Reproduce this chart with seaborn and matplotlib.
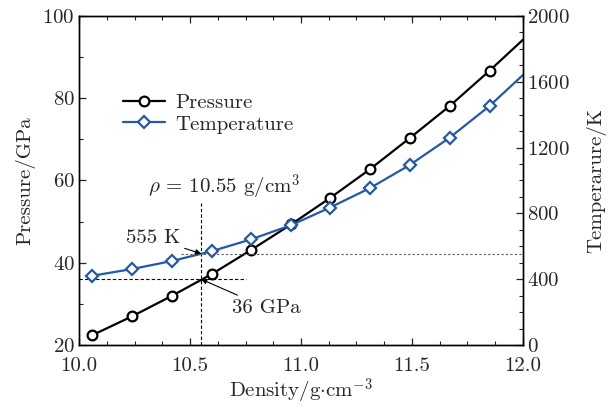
import numpy as np
import pandas as pd
import matplotlib
matplotlib.use("Agg")
import matplotlib.pyplot as plt
from matplotlib.ticker import MultipleLocator, FormatStrFormatter
import seaborn as sns

# 밀도 (g/cm^3) — 마지막 값은 축 끝(마커 없음)
density = [10.06, 10.24, 10.42, 10.60, 10.775, 10.955, 11.13, 11.31, 11.49, 11.67, 11.85, 12.0]
pressure = [22.4, 27.0, 32.0, 37.3, 43.1, 49.3, 55.7, 62.7, 70.3, 78.1, 86.7, 94.2]
temperature = [421, 462, 511, 571, 642, 728, 835, 953, 1094, 1260, 1453, 1641]

rho_mark = 10.55
p_mark = 36
t_mark = 555

BLUE = "#2359a8"

sns.set_style("ticks")
plt.rcParams["font.family"] = ["cmr10", "DejaVu Serif"]
plt.rcParams["mathtext.fontset"] = "cm"
plt.rcParams["axes.formatter.use_mathtext"] = True
plt.rcParams["axes.unicode_minus"] = False

df = pd.DataFrame({"density": density, "pressure": pressure, "temperature": temperature})

fig = plt.figure(figsize=(6.13, 4.09), dpi=100)
ax = fig.add_axes([0.129, 0.1565, 0.724, 0.8045])
ax2 = ax.twinx()

last = len(density) - 1
mk = list(range(last))
sns.lineplot(data=df, x="density", y="pressure", ax=ax, color="black", lw=1.6,
             marker="o", ms=7, mfc="white", mec="black", mew=1.6, markevery=mk,
             label="Pressure", legend=False)
sns.lineplot(data=df, x="density", y="temperature", ax=ax2, color=BLUE, lw=1.6,
             marker="D", ms=6, mfc="white", mec=BLUE, mew=1.6, markevery=mk,
             label="Temperature", legend=False)

# 보조선
ax.vlines(rho_mark, 20, 54.6, color="black", lw=0.8, linestyles=(0, (3, 2)))
ax.hlines(p_mark, 10.0, 10.75, color="black", lw=0.8, linestyles=(0, (3, 2)))
ax2.hlines(t_mark, 10.46, 12.0, color="0.35", lw=0.8, linestyles=(0, (2, 2)))

fs = 15
ax.text(10.655, 58.2, r"$\rho$ = 10.55 g/cm$^3$", ha="center", va="center", fontsize=fs)
ax2.annotate("555 K", xy=(rho_mark, t_mark), xytext=(10.455, 650),
             ha="right", va="center", fontsize=fs,
             arrowprops=dict(arrowstyle="-|>", color="black", lw=0.8,
                             mutation_scale=8, shrinkA=1, shrinkB=0))
ax.annotate("36 GPa", xy=(rho_mark, p_mark), xytext=(10.69, 29.0),
            ha="left", va="center", fontsize=fs,
            arrowprops=dict(arrowstyle="-|>", color="black", lw=0.8,
                            mutation_scale=8, shrinkA=1, shrinkB=0))

ax.set_xlim(10.0, 12.0)
ax.set_ylim(20, 100)
ax2.set_ylim(0, 2000)
ax.xaxis.set_major_locator(MultipleLocator(0.5))
ax.xaxis.set_minor_locator(MultipleLocator(0.125))
ax.yaxis.set_major_locator(MultipleLocator(20))
ax.yaxis.set_minor_locator(MultipleLocator(10))
ax2.yaxis.set_major_locator(MultipleLocator(400))
ax2.yaxis.set_minor_locator(MultipleLocator(100))
ax.xaxis.set_major_formatter(FormatStrFormatter("%.1f"))

ax.tick_params(axis="x", which="both", direction="in", top=True, labelsize=fs, pad=9)
ax.tick_params(axis="y", which="both", direction="in", right=False, labelsize=fs, pad=3)
ax2.tick_params(axis="y", which="both", direction="in", labelsize=fs, pad=3)
for a in (ax, ax2):
    a.tick_params(which="major", length=5, width=0.9)
    a.tick_params(which="minor", length=3, width=0.8)
    for s in a.spines.values():
        s.set_linewidth(1.0)
        s.set_color("black")

ax.set_xlabel(r"Density/g$\cdot$cm$^{-3}$", fontsize=fs, labelpad=1)
ax.set_ylabel("Pressure/GPa", fontsize=fs, labelpad=5)
ax2.set_ylabel("Temperarure/K", fontsize=fs, labelpad=12)

h1, l1 = ax.get_legend_handles_labels()
h2, l2 = ax2.get_legend_handles_labels()
ax.legend(h1 + h2, l1 + l2, loc="upper left", bbox_to_anchor=(0.08, 0.79),
          frameon=False, fontsize=fs, handlelength=2.0, handletextpad=0.5,
          labelspacing=0.15, borderaxespad=0)

fig.savefig("out.png", dpi=100)
